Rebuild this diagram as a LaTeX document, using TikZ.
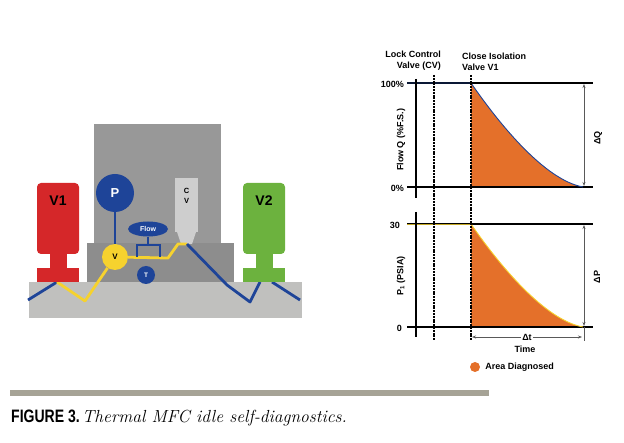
\documentclass[tikz,border=0pt]{standalone}
\usepackage{fontspec}
\setsansfont{Liberation Sans}
\usepackage{graphicx}
\usepackage{tikz}
\usetikzlibrary{arrows.meta, shapes.geometric, positioning}

\definecolor{valvered}{RGB}{213,39,41}
\definecolor{valvegreen}{RGB}{108,178,62}
\definecolor{pipeblue}{RGB}{30,68,152}
\definecolor{pipeyellow}{RGB}{246,210,46}
\definecolor{bodygray}{RGB}{152,152,152}
\definecolor{basegray}{RGB}{192,192,190}
\definecolor{cvgray}{RGB}{206,206,206}
\definecolor{areaorange}{RGB}{228,112,42}
\definecolor{rulegray}{RGB}{166,163,150}

\begin{document}
\begin{tikzpicture}[x=1pt, y=-1pt,
    lbl/.style={font=\sffamily\bfseries\fontsize{9}{11}\selectfont, inner sep=0pt},
    bluepipe/.style={pipeblue, line width=2.8pt, line join=round},
    yellowpipe/.style={pipeyellow, line width=2.8pt, line join=round},
    chartaxis/.style={draw=black, line width=1.8pt},
    markerline/.style={draw=black, line width=2pt, dash pattern=on 2pt off 0.8pt},
    spanarrow/.style={black!65, line width=0.7pt, {Stealth[length=4pt]}-{Stealth[length=4pt]}}]
    \useasboundingbox (0,0) rectangle (624,443);

    % mass flow controller
    \fill[basegray] (29,282) rectangle (302,318);
    \fill[bodygray] (94,124) rectangle (221,244);
    \fill[bodygray!93!black] (87,243) rectangle (234,282);
    \fill[cvgray] (175,178) rectangle (198,232);
    \fill[cvgray] (177,232) -- (196,232) -- (192,244) -- (181,244) -- cycle;

    \coordinate (bl) at (28,300);
    \coordinate (v1foot) at (57,282);
    \coordinate (ydip) at (85,301);
    \coordinate (yk1) at (168,258);
    \coordinate (yk2) at (178,244);
    \coordinate (cvtip) at (187,244);
    \coordinate (bk1) at (227,285);
    \coordinate (bk2) at (250,302);
    \coordinate (v2footL) at (260,282);
    \coordinate (v2footR) at (272,282);
    \coordinate (br) at (300,300);

    \node[circle, fill=pipeblue, minimum size=38pt, inner sep=0pt, text=white,
        font=\sffamily\bfseries\fontsize{13}{13}\selectfont] (P) at (115,193) {P};
    \node[circle, fill=pipeyellow, minimum size=26pt, inner sep=0pt,
        font=\sffamily\bfseries\fontsize{8}{8}\selectfont] (V) at (115,257) {V};
    \node[ellipse, fill=pipeblue, minimum width=40pt, minimum height=15pt, inner sep=0pt, text=white,
        font=\sffamily\bfseries\fontsize{7}{7}\selectfont] (Flow) at (148,229) {Flow};
    \node[circle, fill=pipeblue, minimum size=18pt, inner sep=0pt, text=white,
        font=\sffamily\bfseries\fontsize{6.5}{6.5}\selectfont] (T) at (146,275) {T};
    \node[font=\sffamily\bfseries\fontsize{7.5}{10}\selectfont, align=center, inner sep=0pt] (CV) at (186.5,196) {C\\V};

    \draw[bluepipe] (bl) -- (v1foot);
    \draw[yellowpipe] (v1foot) -- (ydip) -- (V);
    \draw[yellowpipe] (V) -- (yk1) -- (yk2) -- (cvtip);
    \draw[bluepipe] (cvtip) -- (bk1) -- (bk2) -- (v2footL);
    \draw[bluepipe] (v2footR) -- (br);
    \draw[bluepipe] (P) -- (V);
    \draw[pipeblue, line width=1.4pt] (Flow) -- (148,245);
    \draw[pipeblue, line width=1.4pt] (137,257) -- (137,245) -- (160,245) -- (160,257);

    % isolation valves
    \fill[valvered, rounded corners=4pt] (37,183) rectangle (79,254);
    \fill[valvered] (50,250) rectangle (67,269);
    \fill[valvered] (37,268) rectangle (79,282);
    \node[font=\sffamily\bfseries\fontsize{14}{14}\selectfont] (V1) at (58,201) {V1};

    \fill[valvegreen, rounded corners=4pt] (243,183) rectangle (285,254);
    \fill[valvegreen] (256,250) rectangle (273,269);
    \fill[valvegreen] (243,268) rectangle (285,282);
    \node[font=\sffamily\bfseries\fontsize{14}{14}\selectfont] (V2) at (264,201) {V2};

    % flow chart
    \coordinate (qL) at (407,83);
    \coordinate (qstart) at (471,83);
    \coordinate (qR) at (593,83);
    \coordinate (q0L) at (407,187);
    \coordinate (qfoot) at (471,187);
    \coordinate (qend) at (583,187);
    \coordinate (q0R) at (593,187);
    \fill[areaorange] (qstart) .. controls (500,125) and (545,180) .. (qend) -- (qfoot) -- cycle;
    \draw[chartaxis] (qL) -- (qR);
    \draw[chartaxis] (q0L) -- (q0R);
    \draw[pipeblue, line width=0.9pt] (qL) -- (qstart) .. controls (500,125) and (545,180) .. (qend);
    \draw[spanarrow] (584,84) -- (584,186);
    \node[lbl, anchor=east] (q100) at (404,84) {100\%};
    \node[lbl, anchor=east] (q0) at (404,188) {0\%};
    \node[lbl, rotate=90] (qaxis) at (401,140) {Flow Q (\%F.S.)};
    \node[lbl, rotate=90] (dQ) at (598,138) {ΔQ};

    % pressure chart
    \coordinate (pL) at (407,224);
    \coordinate (pstart) at (471,224);
    \coordinate (pR) at (593,224);
    \coordinate (p0L) at (407,327);
    \coordinate (pfoot) at (471,327);
    \coordinate (pend) at (583,327);
    \coordinate (p0R) at (593,327);
    \fill[areaorange] (pstart) .. controls (500,266) and (545,320) .. (pend) -- (pfoot) -- cycle;
    \draw[chartaxis] (pL) -- (pR);
    \draw[chartaxis] (p0L) -- (p0R);
    \draw[pipeyellow!80!black, line width=0.9pt] (pL) -- (pstart);
    \draw[pipeyellow, line width=0.9pt] (pstart) .. controls (500,266) and (545,320) .. (pend);
    \draw[spanarrow] (584,225) -- (584,326);
    \draw[black!65, line width=0.7pt] (584,327) -- (584,341);
    \node[lbl, anchor=east] (p30) at (400,225) {30};
    \node[lbl, anchor=east] (p0) at (402,328) {0};
    \node[lbl, rotate=90] (paxis) at (401,276) {P\textsubscript{1} (PSIA)};
    \node[lbl, rotate=90] (dP) at (597,277) {ΔP};

    % time markers
    \coordinate (axtop) at (416,79);
    \coordinate (axmid1) at (416,198);
    \coordinate (axmid2) at (416,212);
    \coordinate (axbot) at (416,337);
    \draw[chartaxis] (axtop) -- (axmid1);
    \draw[chartaxis] (axmid2) -- (axbot);
    \draw[markerline] (434,75) -- (434,340);
    \draw[markerline] (471,75) -- (471,340);
    \node[lbl, align=right, anchor=south east] (lockcv) at (441,71) {Lock Control\\Valve (CV)};
    \node[lbl, align=left, anchor=south west] (closev1) at (462,71) {Close Isolation\\Valve V1};
    \draw[spanarrow] (472,337) -- (582,337);
    \node[lbl, fill=white, inner sep=1.5pt] (dt) at (527,337) {Δt};
    \node[lbl] (time) at (525,349) {Time};
    \node[circle, fill=areaorange, minimum size=10pt, inner sep=0pt] (area) at (475,367) {};
    \node[lbl, right=5pt of area] (arealbl) {Area Diagnosed};

    % caption
    \fill[rulegray] (10,390) rectangle (489,396);
    \node[anchor=base west, inner sep=0pt] (fig) at (11,423)
        {\scalebox{0.78}[1]{\sffamily\bfseries\fontsize{18}{18}\selectfont FIGURE 3.}};
    \node[anchor=base west, inner sep=0pt, font=\itshape\fontsize{17.5}{18}\selectfont] (caption) at (82,423)
        {Thermal MFC idle self-diagnostics.};
\end{tikzpicture}
\end{document}
